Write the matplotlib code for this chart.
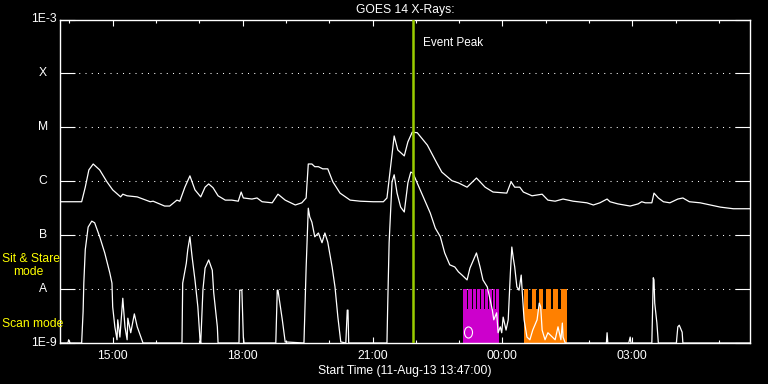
import numpy as np
import pandas as pd
import matplotlib
matplotlib.use('Agg')
import matplotlib.pyplot as plt
import matplotlib.dates as mdates
from matplotlib.path import Path
from matplotlib.transforms import Affine2D
from matplotlib.ticker import NullLocator

plt.rcParams['font.family'] = ['Liberation Sans', 'DejaVu Sans']

start = pd.Timestamp('2013-08-11 13:47:00')
end_clock = '05:43'

# GOES 1-8 A channel (log10 W/m^2)
long_t = ["13:47", "14:17", "14:22", "14:27", "14:33", "14:42", "14:52", "15:00", "15:11", "15:14",
          "15:20", "15:34", "15:52", "15:56", "16:12", "16:19", "16:29", "16:33", "16:40", "16:47",
          "16:54", "17:02", "17:08", "17:13", "17:19", "17:26", "17:36", "17:45", "17:54", "17:58",
          "18:01", "18:13", "18:20", "18:27", "18:41", "18:49", "18:59", "19:13", "19:22", "19:28",
          "19:31", "19:36", "19:40", "19:45", "19:51", "19:58", "20:05", "20:15", "20:29", "20:43",
          "21:01", "21:15", "21:20", "21:24", "21:30", "21:35", "21:44", "21:49", "21:55", "22:02",
          "22:16", "22:29", "22:36", "22:50", "22:59", "23:11", "23:24", "23:36", "23:47", "00:06",
          "00:12", "00:17", "00:24", "00:29", "00:41", "00:55", "01:03", "01:13", "01:24", "01:38",
          "01:57", "02:06", "02:15", "02:25", "02:29", "02:40", "02:57", "03:08", "03:13", "03:18",
          "03:27", "03:30", "03:36", "03:43", "03:52", "04:03", "04:10", "04:19", "04:34", "04:48",
          "05:02", "05:20", "05:43"]
long_log = [-6.38, -6.38, -6.11, -5.79, -5.68, -5.79, -6.01, -6.16, -6.29, -6.24,
            -6.27, -6.29, -6.38, -6.37, -6.46, -6.46, -6.35, -6.37, -6.11, -5.90,
            -6.16, -6.29, -6.11, -6.05, -6.12, -6.27, -6.35, -6.35, -6.37, -6.20,
            -6.31, -6.33, -6.31, -6.38, -6.40, -6.24, -6.35, -6.44, -6.40, -6.31,
            -5.68, -5.68, -5.73, -5.73, -5.77, -5.77, -6.01, -6.22, -6.35, -6.37,
            -6.38, -6.38, -6.31, -5.85, -5.16, -5.42, -5.53, -5.27, -5.09, -5.10,
            -5.33, -5.66, -5.83, -5.99, -6.03, -6.11, -5.94, -6.11, -6.20, -6.22,
            -6.01, -6.11, -6.11, -6.20, -6.27, -6.24, -6.35, -6.37, -6.33, -6.37,
            -6.40, -6.44, -6.40, -6.33, -6.38, -6.42, -6.46, -6.42, -6.38, -6.40,
            -6.40, -6.22, -6.31, -6.38, -6.40, -6.33, -6.31, -6.38, -6.40, -6.44,
            -6.48, -6.51, -6.51]

# GOES 0.5-4 A channel (log10 W/m^2), -9 = below plot floor
short_t = ["13:47", "13:58", "13:59", "14:01", "14:17", "14:19", "14:20", "14:22", "14:26", "14:31",
           "14:35", "14:42", "14:49", "14:56", "14:59", "15:00", "15:03", "15:06", "15:07", "15:10",
           "15:14", "15:17", "15:20", "15:21", "15:25", "15:30", "15:34", "15:38", "15:42", "16:36",
           "16:37", "16:42", "16:44", "16:47", "16:50", "16:54", "16:58", "17:01", "17:02", "17:05",
           "17:08", "17:13", "17:18", "17:20", "17:25", "17:26", "17:55", "17:56", "17:59", "18:01",
           "18:02", "18:46", "18:48", "18:49", "18:55", "18:59", "19:25", "19:28", "19:31", "19:33",
           "19:36", "19:40", "19:45", "19:50", "19:54", "19:58", "20:04", "20:08", "20:12", "20:16",
           "20:23", "20:25", "20:26", "20:27", "21:20", "21:21", "21:23", "21:27", "21:30", "21:34",
           "21:39", "21:44", "21:49", "21:53", "21:56", "22:06", "22:20", "22:27", "22:34", "22:40",
           "22:47", "22:54", "22:59", "23:04", "23:11", "23:15", "23:24", "23:29", "23:33", "23:39",
           "23:43", "23:46", "23:48", "23:52", "23:54", "23:57", "23:59", "00:01", "00:05", "00:08",
           "00:11", "00:13", "00:15", "00:17", "00:20", "00:23", "00:26", "00:27", "00:30", "00:34",
           "00:38", "00:42", "00:48", "00:51", "00:53", "00:55", "00:59", "01:03", "01:13", "01:17",
           "01:21", "01:23", "01:24", "01:27", "02:24", "02:25", "02:26", "02:55", "02:57", "02:58",
           "03:27", "03:29", "03:30", "03:31", "03:34", "03:36", "04:01", "04:03", "04:05", "04:09",
           "04:10", "05:43"]
short_log = [-9.00, -9.00, -8.94, -9.00, -9.00, -8.42, -7.89, -7.27, -6.85, -6.74,
             -6.77, -7.03, -7.33, -7.70, -7.89, -8.33, -8.70, -8.94, -8.57, -8.89,
             -8.17, -8.70, -8.94, -8.54, -8.81, -8.46, -8.70, -8.85, -9.00, -9.00,
             -7.89, -7.52, -7.27, -7.03, -7.40, -7.83, -8.33, -8.94, -9.00, -8.02,
             -7.61, -7.46, -7.65, -8.07, -8.70, -9.00, -9.00, -8.02, -8.02, -8.89,
             -9.00, -9.00, -8.02, -8.02, -8.57, -8.98, -9.00, -7.61, -6.50, -6.66,
             -6.76, -7.03, -6.96, -7.14, -6.96, -7.13, -7.59, -7.96, -8.52, -8.98,
             -9.00, -8.39, -8.39, -9.00, -9.00, -8.33, -7.14, -6.01, -5.88, -6.22,
             -6.48, -6.57, -6.03, -5.83, -5.85, -6.16, -6.59, -6.87, -7.03, -7.33,
             -7.55, -7.59, -7.68, -7.74, -7.83, -7.61, -7.33, -7.59, -7.83, -7.96,
             -8.20, -8.39, -8.57, -8.44, -8.81, -8.70, -8.81, -8.52, -8.76, -8.57,
             -7.70, -7.22, -7.42, -7.59, -7.96, -8.02, -7.74, -7.96, -8.57, -8.89,
             -8.94, -8.76, -8.57, -8.26, -8.33, -8.76, -8.94, -8.81, -8.94, -8.70,
             -8.94, -8.63, -8.89, -9.00, -9.00, -8.81, -9.00, -9.00, -8.89, -9.00,
             -9.00, -7.79, -7.83, -8.26, -8.63, -9.00, -9.00, -8.70, -8.67, -8.80,
             -9.00, -9.00]

peak_time = "21:56"

# instrument observing runs: (start, end) of each raster
magenta_block = ("23:05:24", "23:55:18")
magenta_rasters = [("23:05:24", "23:10:18"), ("23:11:42", "23:17:12"), ("23:18:36", "23:22:48"),
                   ("23:24:12", "23:28:18"), ("23:29:42", "23:33:54"), ("23:35:18", "23:39:24"),
                   ("23:40:48", "23:44:54"), ("23:46:18", "23:49:48"), ("23:51:12", "23:55:18")]
orange_block = ("00:29:18", "01:29:36")
orange_rasters = [("00:29:18", "00:35:30"), ("00:40:36", "00:46:36"), ("00:50:18", "00:56:42"),
                  ("01:00:24", "01:07:24"), ("01:10:36", "01:17:30"), ("01:20:48", "01:29:36")]
block_log = -8.37
raster_log = -8.0
marker_time, marker_log = "23:12:24", -8.80

levels = [-9, -8, -7, -6, -5, -4, -3]
level_labels = ['1E-9', 'A', 'B', 'C', 'M', 'X', '1E-3']


def to_dt(clock):
    t = pd.Timestamp('2013-08-11 ' + clock)
    if t < start:
        t += pd.Timedelta(days=1)
    return t


W, H = 768, 384
fig = plt.figure(figsize=(W / 100, H / 100), dpi=100, facecolor='black')
ax = fig.add_axes([60 / W, 41 / H, 690 / W, 323.5 / H])
ax.set_facecolor('black')
ax.set_yscale('log')
ax.set_ylim(1e-9, 1e-3)
ax.set_xlim(start, to_dt(end_clock))

for lv in levels[1:-1]:
    ax.axhline(10.0 ** lv, color='white', lw=0.75, ls=(0, (1, 5)), zorder=1)

for (b0, b1), rasters, col in [(magenta_block, magenta_rasters, '#cc00cc'),
                               (orange_block, orange_rasters, '#ff8000')]:
    ax.fill_between([to_dt(b0), to_dt(b1)], 1e-9, 10.0 ** block_log, color=col, lw=0, zorder=2)
    for r0, r1 in rasters:
        ax.fill_between([to_dt(r0), to_dt(r1)], 1e-9, 10.0 ** raster_log, color=col, lw=0, zorder=2)

ax.plot([to_dt(t) for t in long_t], 10.0 ** np.array(long_log), color='white', lw=0.9, zorder=3)
ax.plot([to_dt(t) for t in short_t], 10.0 ** np.array(short_log), color='white', lw=0.9, zorder=3)

ell = Path.unit_circle().transformed(Affine2D().scale(0.72, 1.0))
ax.plot([to_dt(marker_time)], [10.0 ** marker_log], marker=ell, ms=8, mfc='none',
        mec='white', mew=0.8, zorder=4)

ax.axvline(to_dt(peak_time), color='#9acd00', lw=1.8, zorder=4)
ax.annotate('Event Peak', xy=(to_dt(peak_time), 1), xycoords=('data', 'axes fraction'),
            xytext=(10, -24), textcoords='offset pixels', color='white', fontsize=8.5,
            ha='left', va='center')

for sp in ax.spines.values():
    sp.set_color('white')
    sp.set_linewidth(1.0)

ax.xaxis.set_major_locator(mdates.HourLocator(byhour=range(0, 24, 3)))
ax.xaxis.set_minor_locator(mdates.HourLocator())
ax.xaxis.set_major_formatter(mdates.DateFormatter('%H:%M'))
ax.tick_params(axis='x', which='both', direction='in', top=True, bottom=True,
               colors='white', labelsize=8.7, width=0.8, pad=5)
ax.tick_params(axis='x', which='major', length=4.3)
ax.tick_params(axis='x', which='minor', length=2.2)

ax.set_yticks([10.0 ** lv for lv in levels])
ax.set_yticklabels([])
ax.yaxis.set_minor_locator(NullLocator())
ax.tick_params(axis='y', which='major', direction='in', left=True, right=True,
               length=10.8, width=0.8, colors='white')

ytr = ax.get_yaxis_transform()
for lv, lab in zip(levels, level_labels):
    if lab.startswith('1E'):
        ax.text(-3 / 690, 10.0 ** lv, lab, transform=ytr, ha='right', va='center',
                color='white', fontsize=8.7)
    else:
        ax.text(-17 / 690, 10.0 ** lv, lab, transform=ytr, ha='center', va='center',
                color='white', fontsize=8.7)

fig.text(405 / W, 1 - 10 / H, 'GOES 14 X-Rays:', ha='center', va='center', color='white', fontsize=8.7)
fig.text(405 / W, 1 - 371 / H, 'Start Time (11-Aug-13 13:47:00)', ha='center', va='center',
         color='white', fontsize=8.7)
fig.text(2 / W, 1 - 259 / H, 'Sit & Stare', ha='left', va='center', color='#ffff00', fontsize=8.7)
fig.text(13 / W, 1 - 272 / H, 'mode', ha='left', va='center', color='#ffff00', fontsize=8.7)
fig.text(2 / W, 1 - 324 / H, 'Scan mode', ha='left', va='center', color='#ffff00', fontsize=8.7)

fig.savefig('out.png', dpi=100, facecolor='black')
